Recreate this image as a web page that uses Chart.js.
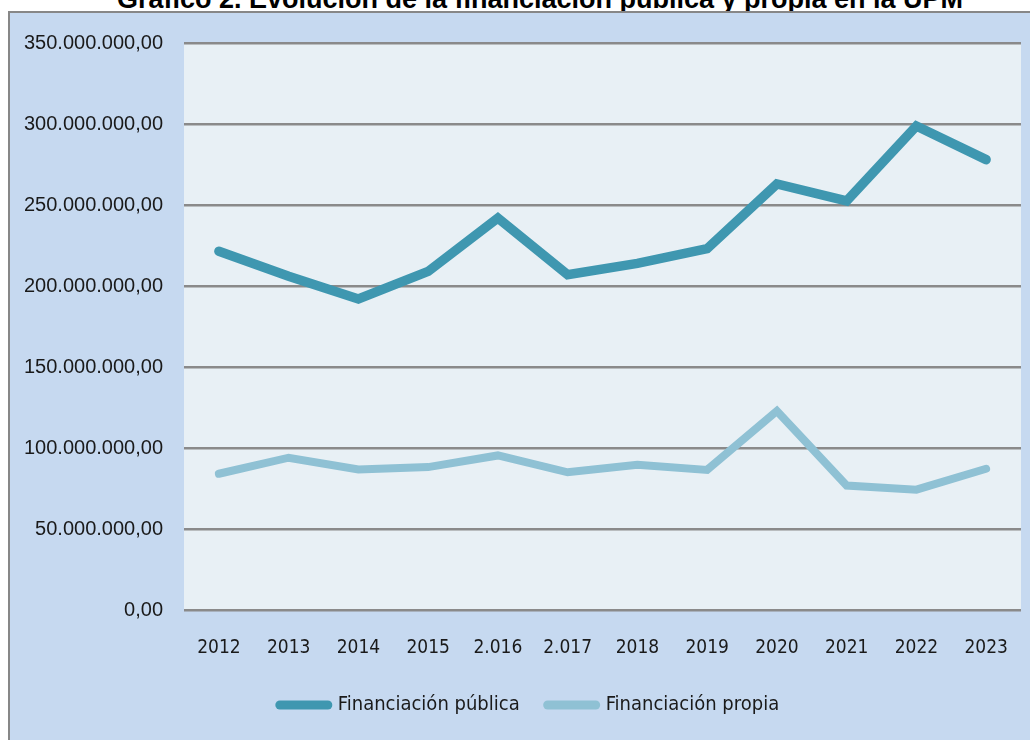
<!DOCTYPE html>
<html><head><meta charset="utf-8">
<script src="https://cdn.jsdelivr.net/npm/chart.js@4.4.1/dist/chart.umd.min.js"></script>
<style>
html,body{margin:0;padding:0;width:1030px;height:740px;overflow:hidden;background:#fff;}
#title{position:absolute;left:0;top:-14px;width:1080px;text-align:center;font-family:'Liberation Sans',Arial,sans-serif;font-weight:bold;font-size:27px;line-height:27px;color:#000;white-space:nowrap;}
#box{position:absolute;left:8px;top:11px;width:1040px;height:760px;background:#c6d9f0;border-left:2px solid #878787;border-top:2px solid #878787;}
#wrap{position:absolute;left:0;top:0;width:1030px;height:740px;}
</style>
</head><body>
<div id="title">Gráfico 2. Evolución de la financiación pública y propia en la UPM</div>
<div id="box"></div>
<div id="wrap"><canvas id="c"></canvas></div>
<script>
const categories = ["2012","2013","2014","2015","2.016","2.017","2018","2019","2020","2021","2022","2023"];
const financiacionPublica = [221400000,206000000,192000000,209000000,242000000,207000000,214000000,223000000,263000000,252500000,298800000,278000000];
const financiacionPropia = [84100000,94000000,86700000,88200000,95400000,85000000,89600000,86500000,122900000,76800000,74300000,87200000];
const seriesNames = ["Financiación pública","Financiación propia"];
const yTicks = [0,50000000,100000000,150000000,200000000,250000000,300000000,350000000];

function fmt(v){
  const s = Math.round(v).toString().replace(/\B(?=(\d{3})+(?!\d))/g,'.');
  return s + ',00';
}
const narrow = "'DejaVu Sans Condensed','Liberation Sans',sans-serif";

const bgPlugin = {
  id:'plotBg',
  afterLayout(chart){
    const lg = chart.legend;
    if (lg) { lg.left += 19; lg.right += 19; }
  },
  beforeDraw(chart){
    const {ctx, chartArea:a} = chart;
    ctx.save();
    ctx.fillStyle = '#e8f0f5';
    ctx.fillRect(a.left, a.top, a.right - a.left, a.bottom - a.top);
    ctx.restore();
  }
};

new Chart(document.getElementById('c'), {
  type:'line',
  data:{
    labels:categories,
    datasets:[
      {label:seriesNames[0], data:financiacionPublica, borderColor:'#3f97b0', backgroundColor:'#3f97b0', borderWidth:9.5, pointRadius:0, tension:0, borderCapStyle:'round', borderJoinStyle:'miter'},
      {label:seriesNames[1], data:financiacionPropia, borderColor:'#8fc1d4', backgroundColor:'#8fc1d4', borderWidth:8, pointRadius:0, tension:0, borderCapStyle:'round', borderJoinStyle:'miter'}
    ]
  },
  options:{
    responsive:true, maintainAspectRatio:false, animation:false,
    layout:{padding:{left:0,right:9,top:43,bottom:15}},
    plugins:{
      tooltip:{enabled:false},
      legend:{
        position:'bottom',
        labels:{
          usePointStyle:true, pointStyle:'line', pointStyleWidth:48, padding:28, color:'#1a1a1a',
          font:{family:narrow, size:20},
          generateLabels(chart){
            return Chart.defaults.plugins.legend.labels.generateLabels(chart).map(l=>Object.assign(l,{lineCap:'round', lineWidth:9}));
          }
        }
      }
    },
    scales:{
      x:{
        offset:true,
        grid:{display:false, drawTicks:true, tickLength:22},
        border:{display:false},
        ticks:{color:'#1a1a1a', font:{family:narrow, size:19}, padding:5, maxRotation:0, autoSkip:false},
        afterFit(s){ s.height = 57; }
      },
      y:{
        min:0, max:350000000,
        afterBuildTicks(s){ s.ticks = yTicks.map(v=>({value:v})); },
        grid:{color:'#8a8a8a', lineWidth:2.5, drawTicks:false},
        border:{display:false},
        ticks:{color:'#1a1a1a', font:{family:"'Liberation Sans',Arial,sans-serif", size:20}, padding:21, callback:(v)=>fmt(v)},
        afterFit(s){ s.width = 184; }
      }
    }
  },
  plugins:[bgPlugin]
});
</script>
</body></html>
